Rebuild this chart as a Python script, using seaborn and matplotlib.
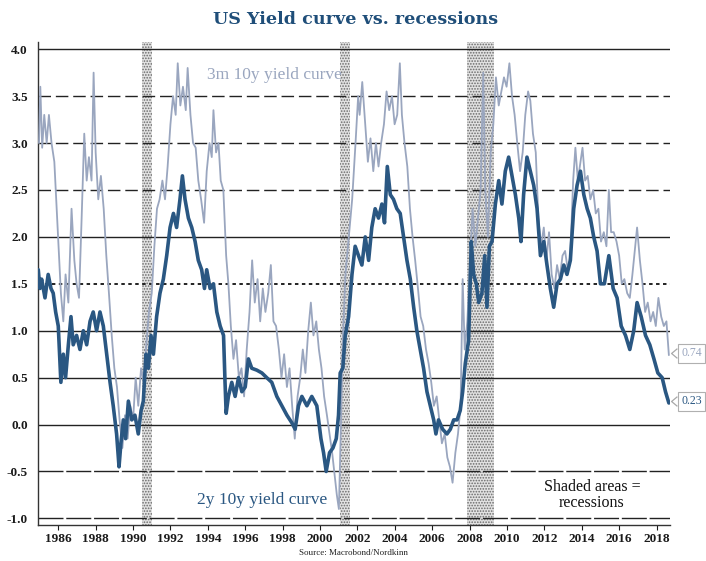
import matplotlib
matplotlib.use("Agg")
import matplotlib.pyplot as plt
from matplotlib.path import Path
import seaborn as sns
import pandas as pd

# ---------------- data ----------------
dark_years = [1984.93, 1985.02, 1985.11, 1985.29, 1985.46, 1985.61, 1985.73, 1985.86, 1986.00, 1986.14,
              1986.27, 1986.39, 1986.54, 1986.68, 1986.80, 1986.98, 1987.16, 1987.34, 1987.52, 1987.70,
              1987.87, 1988.05, 1988.23, 1988.41, 1988.59, 1988.77, 1988.94, 1989.12, 1989.25, 1989.35,
              1989.48, 1989.60, 1989.75, 1989.93, 1990.10, 1990.28, 1990.43, 1990.55, 1990.69, 1990.82,
              1990.96, 1991.09, 1991.26, 1991.44, 1991.62, 1991.80, 1991.98, 1992.16, 1992.33, 1992.51,
              1992.64, 1992.78, 1992.96, 1993.14, 1993.32, 1993.49, 1993.67, 1993.82,
              1993.94, 1994.12, 1994.30, 1994.48, 1994.66, 1994.84, 1994.92, 1994.98, 1995.10, 1995.28,
              1995.46, 1995.64, 1995.82, 1996.00, 1996.17, 1996.35, 1996.62, 1996.89, 1997.15, 1997.42,
              1997.69, 1997.96, 1998.23, 1998.49, 1998.67, 1998.85, 1999.03, 1999.30, 1999.56, 1999.83,
              2000.05, 2000.19, 2000.33, 2000.51, 2000.69, 2000.87, 2000.99, 2001.08, 2001.22, 2001.35,
              2001.53, 2001.71, 2001.88, 2002.06, 2002.24, 2002.42, 2002.60, 2002.77, 2002.95, 2003.13,
              2003.31, 2003.45, 2003.60, 2003.76, 2003.93, 2004.11, 2004.29, 2004.47, 2004.65, 2004.83,
              2005.01, 2005.18, 2005.36, 2005.54, 2005.72, 2005.90, 2006.08, 2006.20, 2006.34, 2006.56,
              2006.79, 2006.97, 2007.15, 2007.33, 2007.50, 2007.63, 2007.77, 2007.95, 2008.09, 2008.22,
              2008.36, 2008.49, 2008.66, 2008.81, 2008.93, 2009.06, 2009.20, 2009.38, 2009.56, 2009.73,
              2009.91, 2010.09, 2010.27, 2010.45, 2010.63, 2010.75, 2010.89, 2011.07, 2011.25, 2011.43,
              2011.61, 2011.79, 2011.97, 2012.14, 2012.32, 2012.50, 2012.68, 2012.86, 2013.04, 2013.21,
              2013.39, 2013.57, 2013.75, 2013.93, 2014.11, 2014.29, 2014.46, 2014.64, 2014.82, 2015.00,
              2015.21, 2015.45, 2015.68, 2015.89, 2016.11, 2016.34, 2016.57, 2016.78, 2016.96, 2017.18,
              2017.41, 2017.64, 2017.86, 2018.07, 2018.30, 2018.48, 2018.66]
dark_vals = [1.65, 1.45, 1.55, 1.35, 1.60, 1.45, 1.40, 1.20, 1.05, 0.45,
             0.75, 0.50, 0.85, 1.15, 0.85, 0.95, 0.80, 1.00, 0.85, 1.10,
             1.20, 1.00, 1.20, 1.05, 0.75, 0.45, 0.20, -0.10, -0.45, -0.20,
             0.05, -0.15, 0.25, 0.05, 0.10, -0.10, 0.15, 0.25, 0.75, 0.60,
             0.95, 0.75, 1.15, 1.40, 1.55, 1.80, 2.10, 2.25, 2.10, 2.40,
             2.65, 2.40, 2.20, 2.10, 1.95, 1.75, 1.65, 1.45,
             1.65, 1.45, 1.50, 1.20, 1.05, 0.95, 0.45, 0.12, 0.30, 0.45,
             0.30, 0.50, 0.35, 0.40, 0.70, 0.60, 0.58, 0.55, 0.50, 0.45,
             0.30, 0.20, 0.10, 0.02, -0.05, 0.20, 0.30, 0.20, 0.30, 0.20,
             -0.15, -0.30, -0.50, -0.30, -0.25, -0.15, 0.10, 0.55, 0.60, 0.95,
             1.15, 1.60, 1.90, 1.80, 1.70, 2.00, 1.75, 2.10, 2.30, 2.20,
             2.35, 2.15, 2.75, 2.45, 2.40, 2.30, 2.25, 2.00, 1.75, 1.55,
             1.25, 1.00, 0.80, 0.60, 0.35, 0.20, 0.05, -0.10, 0.05, -0.05,
             -0.10, -0.05, 0.05, 0.05, 0.15, 0.35, 0.65, 0.90, 1.95, 1.60,
             1.50, 1.30, 1.40, 1.80, 1.25, 1.90, 1.95, 2.35, 2.60, 2.35,
             2.70, 2.85, 2.65, 2.45, 2.20, 1.95, 2.45, 2.85, 2.70, 2.55,
             2.30, 1.80, 1.95, 1.70, 1.45, 1.25, 1.50, 1.55, 1.70, 1.60,
             1.75, 2.30, 2.55, 2.70, 2.45, 2.30, 2.20, 2.00, 1.85, 1.50,
             1.50, 1.80, 1.45, 1.35, 1.05, 0.95, 0.80, 1.00, 1.30, 1.15,
             0.95, 0.85, 0.70, 0.55, 0.50, 0.35, 0.23]

light_years = [1984.97, 1985.04, 1985.14, 1985.25, 1985.38, 1985.50, 1985.64, 1985.79, 1985.89, 1986.00,
               1986.14, 1986.27, 1986.39, 1986.54, 1986.71, 1986.86, 1986.98, 1987.11, 1987.25, 1987.39,
               1987.52, 1987.64, 1987.78, 1987.89, 1988.00, 1988.14, 1988.28, 1988.43, 1988.57, 1988.71,
               1988.86, 1989.00, 1989.14, 1989.28, 1989.43, 1989.57, 1989.71, 1989.85, 1990.00, 1990.14,
               1990.28, 1990.43, 1990.57, 1990.71, 1990.85, 1991.00, 1991.14, 1991.28, 1991.42, 1991.57,
               1991.71, 1991.85, 1992.00, 1992.14, 1992.28, 1992.39, 1992.53, 1992.67, 1992.82, 1992.92,
               1993.07, 1993.21, 1993.35, 1993.49, 1993.64, 1993.80, 1993.94, 1994.09, 1994.21, 1994.30,
               1994.44, 1994.57, 1994.69, 1994.83, 1994.98, 1995.10, 1995.23, 1995.37, 1995.51, 1995.66,
               1995.80, 1995.94, 1996.08, 1996.23, 1996.37, 1996.51, 1996.66, 1996.80, 1996.94, 1997.08,
               1997.23, 1997.37, 1997.51, 1997.65, 1997.80, 1997.94, 1998.08, 1998.23, 1998.37, 1998.51,
               1998.65, 1998.80, 1998.94, 1999.08, 1999.22, 1999.37, 1999.51, 1999.65, 1999.80, 1999.94,
               2000.08, 2000.22, 2000.37, 2000.51, 2000.65, 2000.79, 2000.90, 2001.01, 2001.12, 2001.22,
               2001.36, 2001.54, 2001.72, 2001.90, 2002.04, 2002.12, 2002.26, 2002.42, 2002.56, 2002.70,
               2002.85, 2002.99, 2003.13, 2003.27, 2003.42, 2003.56, 2003.70, 2003.85, 2003.99, 2004.13,
               2004.27, 2004.38, 2004.52, 2004.67, 2004.81, 2004.95, 2005.09, 2005.24, 2005.38, 2005.52,
               2005.67, 2005.81, 2005.95, 2006.09, 2006.24, 2006.38, 2006.52, 2006.67, 2006.81, 2006.95,
               2007.09, 2007.24, 2007.38, 2007.52, 2007.63, 2007.74, 2007.88, 2008.02, 2008.16, 2008.31,
               2008.45, 2008.59, 2008.73, 2008.84, 2008.98, 2009.13, 2009.27, 2009.41, 2009.56, 2009.70,
               2009.84, 2009.98, 2010.13, 2010.27, 2010.41, 2010.55, 2010.70, 2010.84, 2010.98, 2011.13,
               2011.25, 2011.39, 2011.54, 2011.68, 2011.82, 2011.97, 2012.11, 2012.25, 2012.39, 2012.54,
               2012.68, 2012.82, 2012.97, 2013.11, 2013.25, 2013.39, 2013.54, 2013.66, 2013.79, 2013.93,
               2014.04, 2014.18, 2014.32, 2014.46, 2014.61, 2014.75, 2014.89, 2015.03, 2015.18, 2015.32,
               2015.45, 2015.57, 2015.71, 2015.86, 2016.00, 2016.14, 2016.28, 2016.43, 2016.57, 2016.71,
               2016.86, 2016.96, 2017.11, 2017.25, 2017.39, 2017.53, 2017.68, 2017.82, 2017.96, 2018.10,
               2018.25, 2018.39, 2018.53, 2018.66]
light_vals = [3.00, 3.60, 2.95, 3.30, 3.00, 3.30, 3.00, 2.80, 2.40, 1.95,
              1.40, 1.10, 1.60, 1.30, 2.30, 1.75, 1.50, 1.35, 2.20, 3.10,
              2.60, 2.85, 2.60, 3.75, 2.90, 2.40, 2.65, 2.30, 1.80, 1.40,
              0.95, 0.60, 0.40, 0.05, -0.25, 0.10, -0.15, 0.20, 0.05, 0.50,
              0.20, 0.60, 0.45, 0.85, 1.20, 1.40, 1.90, 2.30, 2.40, 2.60,
              2.40, 2.75, 3.20, 3.50, 3.30, 3.85, 3.40, 3.60, 3.35, 3.80,
              3.30, 3.00, 2.95, 2.60, 2.40, 2.15, 2.70, 3.00, 2.85, 3.35,
              2.90, 3.00, 2.60, 2.50, 1.80, 1.50, 1.05, 0.70, 0.90, 0.50,
              0.60, 0.30, 0.80, 1.20, 1.75, 1.30, 1.55, 1.10, 1.45, 1.20,
              1.40, 1.70, 1.10, 1.05, 0.80, 0.50, 0.75, 0.40, 0.60, 0.20,
              -0.15, 0.30, 0.50, 0.80, 0.55, 1.00, 1.30, 0.95, 1.10, 0.80,
              0.60, 0.30, 0.10, -0.10, -0.30, -0.55, -0.75, -0.90, 0.00, 0.90,
              1.60, 2.00, 2.40, 3.00, 3.50, 3.30, 3.65, 3.20, 2.80, 3.05,
              2.70, 3.00, 2.75, 3.00, 3.20, 3.55, 3.35, 3.50, 3.20, 3.30,
              3.85, 3.30, 3.00, 2.75, 2.30, 2.00, 1.75, 1.45, 1.15, 1.05,
              0.80, 0.65, 0.45, 0.20, 0.30, 0.05, -0.20, -0.10, -0.35, -0.45,
              -0.62, -0.30, -0.10, 0.20, 1.55, 0.80, 1.10, 1.70, 2.30, 1.90,
              2.20, 2.50, 3.75, 2.50, 2.00, 2.90, 3.20, 3.70, 3.40, 3.55,
              3.70, 3.60, 3.85, 3.50, 3.30, 3.00, 2.70, 2.90, 3.30, 3.55,
              3.45, 3.10, 2.90, 2.20, 1.90, 2.10, 1.75, 2.05, 1.60, 1.45,
              1.70, 1.55, 1.80, 1.85, 1.65, 1.80, 2.60, 2.95, 2.60, 2.80,
              2.95, 2.60, 2.65, 2.40, 2.50, 2.25, 2.30, 1.95, 2.05, 1.90,
              2.50, 2.05, 2.05, 1.95, 1.80, 1.50, 1.55, 1.40, 1.35, 1.60,
              1.90, 2.10, 1.75, 1.50, 1.20, 1.30, 1.10, 1.20, 1.05, 1.35,
              1.15, 1.05, 1.10, 0.74]

recession_starts = [1990.48, 2001.08, 2007.86]
recession_ends = [1991.02, 2001.62, 2009.29]

xtick_years = [1986, 1988, 1990, 1992, 1994, 1996, 1998, 2000, 2002, 2004, 2006, 2008, 2010, 2012, 2014, 2016, 2018]
xtick_labels = [str(y) for y in xtick_years]
ytick_vals = [4.0, 3.5, 3.0, 2.5, 2.0, 1.5, 1.0, 0.5, 0.0, -0.5, -1.0]
ytick_labels = ["4.0", "3.5", "3.0", "2.5", "2.0", "1.5", "1.0", "0.5", "0.0", "-0.5", "-1.0"]
grid_solid = [4.0, 2.0, 1.0, 0.5, 0.0]
grid_dashed = [3.5, 3.0, 2.5]
grid_dotted = [1.5]
grid_longdash = [-0.5, -1.0]

title_text = "US Yield curve vs. recessions"
label_3m = "3m 10y yield curve"
label_2y = "2y 10y yield curve"
note_text = "Shaded areas =\nrecessions"
source_text = "Source: Macrobond/Nordkinn"

# ---------------- styling ----------------
sns.set_style("white")
plt.rcParams["font.family"] = ["Liberation Serif", "DejaVu Serif"]
plt.rcParams["hatch.linewidth"] = 0.8
plt.rcParams["lines.scale_dashes"] = False

DARK = "#2a5782"
LIGHT = "#9aa6bf"
TITLE = "#1f4e79"

fig = plt.figure(figsize=(7.06, 5.61), dpi=100)
ax = fig.add_axes([0.0534, 0.0642, 0.8956, 0.8615])

# recessions
for s, e in zip(recession_starts, recession_ends):
    ax.axvspan(s, e, facecolor="#e2e2e2", edgecolor="#6a6a6a", hatch="......",
               linewidth=0, zorder=1)

# gridlines
for v in grid_solid:
    ax.axhline(v, color="#222222", lw=1.0, zorder=2)
for v in grid_dashed:
    ax.axhline(v, color="#222222", lw=1.0, ls=(0, (9, 3.5)), zorder=2)
for v in grid_dotted:
    ax.axhline(v, color="#222222", lw=1.4, ls=(0, (2.5, 2.5)), zorder=2)
for v in grid_longdash:
    ax.axhline(v, color="#222222", lw=1.0, ls=(0, (18, 2)), zorder=2)

light_df = pd.DataFrame({"year": light_years, "value": light_vals})
dark_df = pd.DataFrame({"year": dark_years, "value": dark_vals})
sns.lineplot(data=light_df, x="year", y="value", ax=ax, color=LIGHT, lw=1.3,
             estimator=None, sort=False, zorder=3)
sns.lineplot(data=dark_df, x="year", y="value", ax=ax, color=DARK, lw=2.6,
             estimator=None, sort=False, zorder=4)

ax.set_xlim(1984.9, 2018.72)
ax.set_ylim(-1.07, 4.08)
ax.set_xticks(xtick_years)
ax.set_xticklabels(xtick_labels)
ax.set_yticks(ytick_vals)
ax.set_yticklabels(ytick_labels)
ax.set_xlabel("")
ax.set_ylabel("")
ax.tick_params(axis="x", length=3.5, width=0.8, direction="out", pad=2,
               labelsize=9.5, colors="#1a1a1a", bottom=True)
ax.tick_params(axis="y", length=0, pad=7, labelsize=9.5, colors="#1a1a1a")
for lab in ax.get_xticklabels() + ax.get_yticklabels():
    lab.set_fontweight("bold")

for side in ["top", "right"]:
    ax.spines[side].set_visible(False)
for side in ["left", "bottom"]:
    ax.spines[side].set_color("#333333")
    ax.spines[side].set_linewidth(1.0)

# texts
fig.text(0.503, 0.966, title_text, ha="center", va="center", fontsize=12.6,
         fontweight="bold", color=TITLE, family=["DejaVu Serif"])
ax.text(1993.96, 3.73, label_3m, ha="left", va="center", fontsize=12.5, color=LIGHT, zorder=5)
ax.text(1993.43, -0.80, label_2y, ha="left", va="center", fontsize=12.5, color=DARK, zorder=5)
ax.text(2014.55, -0.75, note_text, ha="center", va="center", fontsize=11.5,
        color="#111111", linespacing=0.95, zorder=5)
fig.text(0.5, 0.015, source_text, ha="center", va="center", fontsize=6.5, color="#222222")

# end value tags: chevron pointer + boxed value
chevron = Path([(0.6, 1.0), (-0.6, 0.0), (0.6, -1.0)],
               [Path.MOVETO, Path.LINETO, Path.LINETO])
for val, col in [(light_vals[-1], LIGHT), (dark_vals[-1], DARK)]:
    ypos = val + 0.02
    ax.plot([2018.93], [ypos], marker=chevron, markersize=7, mfc="none",
            mec="#a8a8a8", mew=0.9, clip_on=False, zorder=6, ls="none")
    ax.text(2019.32, ypos, f"{val:.2f}", ha="left", va="center", fontsize=8.5,
            color=col, clip_on=False, zorder=6,
            bbox=dict(boxstyle="square,pad=0.3", fc="white", ec="#b0b0b0", lw=0.8))

fig.savefig("out.png", dpi=100)
